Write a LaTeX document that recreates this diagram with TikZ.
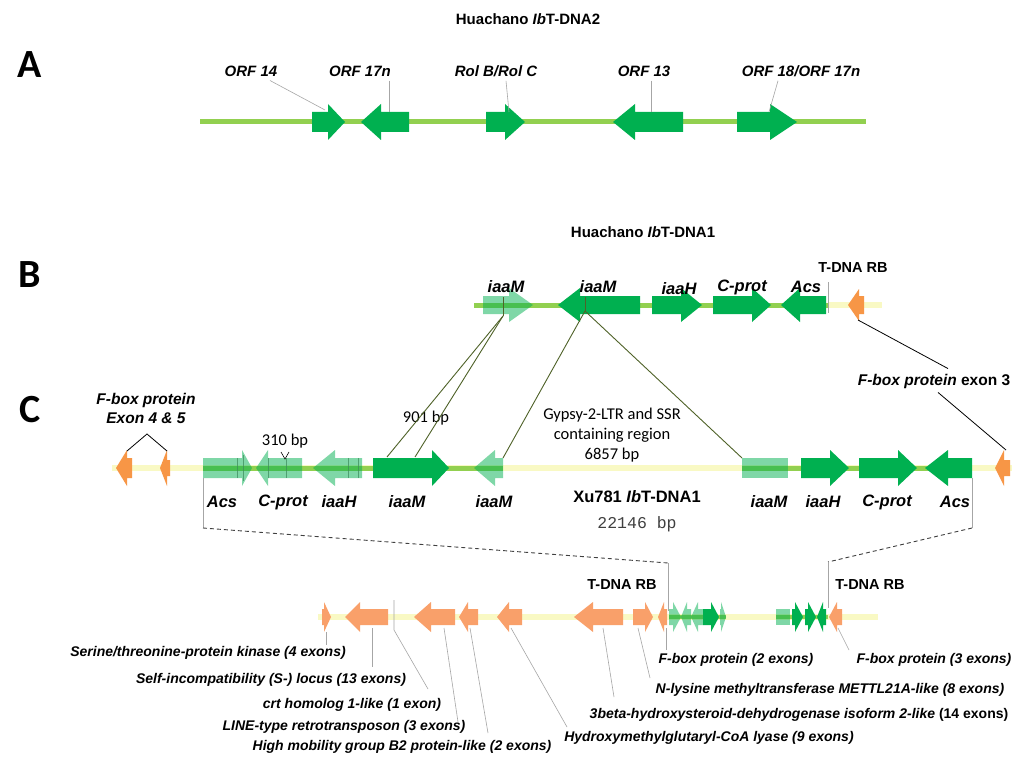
\documentclass[tikz,border=0pt]{standalone}
\usepackage{fontspec}
\setmainfont{Liberation Sans}
\newfontfamily\calfont{Carlito}
\newfontfamily\courfont{Liberation Mono}
\definecolor{dgreen}{HTML}{00B050}
\definecolor{lgreen}{HTML}{92D050}
\definecolor{lyellow}{HTML}{F9F9C4}
\definecolor{orng}{HTML}{F79646}
\definecolor{orng2}{HTML}{F9A06A}
\definecolor{olivec}{HTML}{4F6228}
\definecolor{leadgray}{HTML}{A6A6A6}
\definecolor{exline}{HTML}{3C8A5A}
\definecolor{dashc}{HTML}{404040}
\newcommand\genearr[7]{\fill[#1] (#2,#5-#6) -- (#4,#5-#6) -- (#4,#5-#7) -- (#3,#5) -- (#4,#5+#7) -- (#4,#5+#6) -- (#2,#5+#6) -- cycle;}
\tikzset{
 dg/.style={fill=dgreen},
 lg/.style={fill=dgreen, fill opacity=0.5},
 og/.style={fill=orng},
 og2/.style={fill=orng2},
 lgline/.style={draw=lgreen, line width=5pt},
 lgthin/.style={draw=lgreen, line width=3.5pt},
 lyline/.style={draw=lyellow, line width=6pt},
 lead/.style={draw=leadgray, line width=0.6pt},
 oln/.style={draw=olivec, line width=0.9pt},
 exl/.style={draw=exline, line width=0.6pt, opacity=0.7},
 blk/.style={draw=black, line width=0.8pt},
 dsh/.style={draw=dashc, line width=0.9pt, dash pattern=on 4pt off 3pt},
 ttl/.style={font=\fontsize{15}{17}\selectfont\bfseries, inner sep=0},
 pl/.style={font=\calfont\fontsize{40}{42}\selectfont\bfseries, inner sep=0},
 alab/.style={font=\fontsize{15}{17}\selectfont\bfseries\itshape, inner sep=0},
 glab/.style={font=\fontsize{16.5}{18}\selectfont\bfseries\itshape, inner sep=0},
 rb/.style={font=\fontsize{14.5}{16}\selectfont\bfseries, inner sep=0},
 flab/.style={font=\fontsize{15.5}{19}\selectfont\bfseries\itshape, inner sep=0, align=center},
 clab/.style={font=\calfont\fontsize{16.5}{20}\selectfont, inner sep=0, align=center},
 blab/.style={font=\fontsize{14}{16}\selectfont\bfseries\itshape, inner sep=0},
}
\begin{document}
\begin{tikzpicture}[x=1pt,y=-1pt]
\useasboundingbox[fill=white] (0,0) rectangle (1022,759);

% ---------------- Panel A
\node[ttl] (tA) at (528,19) {Huachano \textit{Ib}T-DNA2};
\node[pl] (pA) at (30,65) {A};
\draw[lgline] (200,122) -- (866,122);
\genearr{dg}{312}{345}{328}{122}{10}{18}
\genearr{dg}{409}{361}{381}{122}{10}{18}
\genearr{dg}{486}{525}{505}{122}{10}{18}
\genearr{dg}{683}{613}{635}{122}{10}{18}
\genearr{dg}{737}{797}{770}{122}{10}{18}
\node[alab] (a14) at (251,71) {ORF 14};
\node[alab] (a17) at (360,71) {ORF 17n};
\node[alab] (arol) at (496,71) {Rol B/Rol C};
\node[alab] (a13) at (644,71) {ORF 13};
\node[alab] (a18) at (801,71) {ORF 18/ORF 17n};
\coordinate (e14) at (325,110);
\coordinate (e17) at (389,112);
\coordinate (erol) at (509,112);
\coordinate (e13) at (651,112);
\coordinate (e18) at (769,112);
\draw[lead] ([xshift=19pt,yshift=-4pt]a14.south) -- (e14);
\draw[lead] ([xshift=29pt,yshift=-4pt]a17.south) -- (e17);
\draw[lead] ([xshift=10pt,yshift=-4pt]arol.south) -- (erol);
\draw[lead] ([xshift=7pt,yshift=-4pt]a13.south) -- (e13);
\draw[lead] ([xshift=-23pt,yshift=-4pt]a18.south) -- (e18);

% ---------------- Panel B
\node[ttl] (tB) at (643,232) {Huachano \textit{Ib}T-DNA1};
\node[pl] (pB) at (30,275) {B};
\draw[lgline] (474,305) -- (828,305);
\draw[lyline] (828,305) -- (882,305);
\genearr{lg}{483}{533}{509}{305}{9}{17}
\genearr{dg}{640}{558}{580}{305}{9}{17}
\genearr{dg}{652}{702}{681}{305}{9}{17}
\genearr{dg}{713}{771}{752}{305}{9}{17}
\genearr{dg}{826}{781}{800}{305}{9}{17}
\genearr{og}{864}{848}{859}{305}{9}{16}
\node[glab] (bm1) at (506,287) {iaaM};
\node[glab] (bm2) at (598,287) {iaaM};
\node[glab] (bh) at (679,289) {iaaH};
\node[glab] (bc) at (742,287) {C-prot};
\node[glab] (ba) at (806,287) {Acs};
\node[rb] (brb) at (853,268) {T-DNA RB};
\draw[lead] (828,282) -- (828,313);
\draw[oln] (503,297) -- (503,316);
\draw[oln] (585,297) -- (585,312);

% ---------------- Panel C
\node[pl] (pC) at (30,410) {C};
\draw[lyline] (112,468) -- (1012,468);
\draw[lgline] (203,468) -- (503,468);
\draw[lgline] (742,468) -- (972,468);
\genearr{og}{132}{116}{127}{468}{10}{18}
\genearr{og}{170}{160}{167}{468}{8}{18}
\genearr{og}{1010}{995}{1004}{468}{8}{18}
% left cluster (inverted copy)
\genearr{lg}{203}{252}{242}{468}{10}{18}
\draw[exl] (237,458) -- (237,478) (243,455) -- (243,481);
\genearr{lg}{302}{256}{268}{468}{10}{18}
\draw[exl] (268,458) -- (268,478) (286,458) -- (286,478);
\genearr{lg}{362}{313}{335}{468}{10}{18}
\draw[exl] (348,458) -- (348,478) (358,458) -- (358,478);
\genearr{dg}{373}{449}{432}{468}{10}{18}
\genearr{lg}{503}{474}{495}{468}{10}{18}
% right cluster
\fill[lg] (742,458) rectangle (788,478);
\genearr{dg}{801}{849}{830}{468}{10}{18}
\genearr{dg}{859}{917}{898}{468}{10}{18}
\genearr{dg}{972}{925}{948}{468}{10}{18}
% labels
\node[glab] (cl1) at (222,502) {Acs};
\node[glab] (cl2) at (283,502) {C-prot};
\node[glab] (cl3) at (339,502) {iaaH};
\node[glab] (cl4) at (407,502) {iaaM};
\node[glab] (cl5) at (494,502) {iaaM};
\node[glab] (cr1) at (769,502) {iaaM};
\node[glab] (cr2) at (823,502) {iaaH};
\node[glab] (cr3) at (887,502) {C-prot};
\node[glab] (cr4) at (955,502) {Acs};
\node[flab] (fb45) at (146,408) {F-box protein\\Exon 4 \& 5};
\coordinate (fbl) at (127,451);
\coordinate (fbr) at (167,451);
\draw[blk] (fbl) -- (147,434) -- (fbr);
\node[clab] (b310) at (285,441) {310 bp};
\draw[blk,line width=0.6pt] (281,452) -- (285,459) -- (289,452);
\node[clab] (b901) at (426,418) {901 bp};
\node[clab] (gyp) at (612,435) {Gypsy-2-LTR and SSR\\containing region\\6857 bp};
\node[font=\fontsize{15.5}{17}\selectfont\bfseries, inner sep=0] (fb3) at (934,381) {\textit{F-box protein} exon 3};
\node[font=\fontsize{16.5}{18}\selectfont\bfseries, inner sep=0] (xu) at (637,497) {Xu781 \textit{Ib}T-DNA1};
\node[font=\courfont\fontsize{16.5}{18}\selectfont, text=dashc, inner sep=0] (bp) at (637,524) {22146 bp};

% connectors B -> C
\coordinate (bM1) at (503,316);
\coordinate (bM2) at (585,311);
\coordinate (cM1a) at (387,457);
\coordinate (cM1b) at (415,457);
\coordinate (cM2a) at (503,458);
\coordinate (cM2b) at (742,458);
\draw[oln] (bM1) -- (cM1a);
\draw[oln] (bM1) -- (cM1b);
\draw[oln] (bM2) -- (cM2a);
\draw[oln] (bM2) -- (cM2b);
\coordinate (bOr) at (858,320);
\coordinate (cOr) at (1006,450);
\draw[blk] (bOr) -- ([xshift=14pt,yshift=5pt]fb3.north);
\draw[blk] ([xshift=4pt,yshift=-4pt]fb3.south) -- (cOr);

% dashed zoom lines
\coordinate (dL0) at (203,478);
\coordinate (dL1) at (203,528);
\coordinate (dL2) at (668,563);
\coordinate (dL3) at (668,611);
\coordinate (dR0) at (972,478);
\coordinate (dR1) at (972,528);
\coordinate (dR2) at (828,562);
\coordinate (dR3) at (828,608);
\draw[lead] (dL0) -- (dL1);
\draw[dsh] (dL1) -- (dL2);
\draw[lead] (dL2) -- (dL3);
\draw[lead] (dR0) -- (dR1);
\draw[dsh] (dR1) -- (dR2);
\draw[lead] (dR2) -- (dR3);

% ---------------- Bottom row
\node[rb] (rb1) at (622,585) {T-DNA RB};
\node[rb] (rb2) at (870,585) {T-DNA RB};
\draw[lyline] (318,617) -- (878,617);
\draw[lgthin] (669,617) -- (726,617);
\draw[lgthin] (776,617) -- (828,617);
\genearr{og2}{322}{331}{324}{617}{8}{15}
\genearr{og2}{388}{345}{360}{617}{8}{15}
\genearr{og2}{455}{414}{431}{617}{8}{15}
\genearr{og2}{478}{459}{468}{617}{8}{15}
\genearr{og2}{522}{497}{509}{617}{8}{15}
\genearr{og2}{623}{574}{593}{617}{8}{15}
\genearr{og2}{633}{653}{645}{617}{8}{15}
\genearr{og2}{667}{658}{664}{617}{8}{15}
\genearr{lg}{669}{681}{673}{617}{8}{15}
\genearr{lg}{691}{681}{687}{617}{8}{15}
\genearr{lg}{703}{691}{698}{617}{8}{15}
\genearr{dg}{703}{719}{711}{617}{8}{15}
\genearr{lg}{720}{726}{721}{617}{8}{15}
\fill[lg] (776,609) rectangle (790,625);
\genearr{dg}{792}{803}{795}{617}{8}{15}
\genearr{dg}{805}{816}{808}{617}{8}{15}
\genearr{dg}{826}{817}{823}{617}{8}{15}
\genearr{og2}{842}{829}{837}{617}{8}{15}

% bottom labels
\node[blab] (l1) at (208,653) {Serine/threonine-protein kinase (4 exons)};
\node[blab] (l2) at (271,680) {Self-incompatibility (S-) locus (13 exons)};
\node[blab] (l3) at (352,705) {crt homolog 1-like (1 exon)};
\node[blab] (l4) at (344,727) {LINE-type retrotransposon (3 exons)};
\node[blab] (l5) at (402,747) {High mobility group B2 protein-like (2 exons)};
\node[blab] (l6) at (709,738) {Hydroxymethylglutaryl-CoA lyase (9 exons)};
\node[blab] (l7) at (799,715) {3beta-hydroxysteroid-dehydrogenase isoform 2-like \upshape(14 exons)};
\node[blab] (l8) at (830,690) {N-lysine methyltransferase METTL21A-like (8 exons)};
\node[blab] (l9) at (736,660) {F-box protein (2 exons)};
\node[blab] (l10) at (934,660) {F-box protein (3 exons)};
\coordinate (g1) at (326,632);
\coordinate (g2) at (372,628);
\coordinate (g3) at (394,600);
\coordinate (g3b) at (394,630);
\coordinate (g4) at (444,628);
\coordinate (g5) at (470,628);
\coordinate (g6) at (511,628);
\coordinate (g7) at (603,628);
\coordinate (g8) at (638,628);
\coordinate (g9) at (666,628);
\coordinate (g10) at (838,628);
\draw[lead] (g1) -- (326,645);
\draw[lead] (g2) -- (372,667);
\draw[lead] (g3) -- (g3b) -- (428,689);
\draw[lead] (g4) -- (458,722);
\draw[lead] (g5) -- (488,733);
\draw[lead] (g6) -- (567,727);
\draw[lead] (g7) -- (614,697);
\draw[lead] (g8) -- (650,678);
\draw[lead] (g9) -- (666,650);
\draw[lead] (g10) -- (849,650);
\end{tikzpicture}
\end{document}
